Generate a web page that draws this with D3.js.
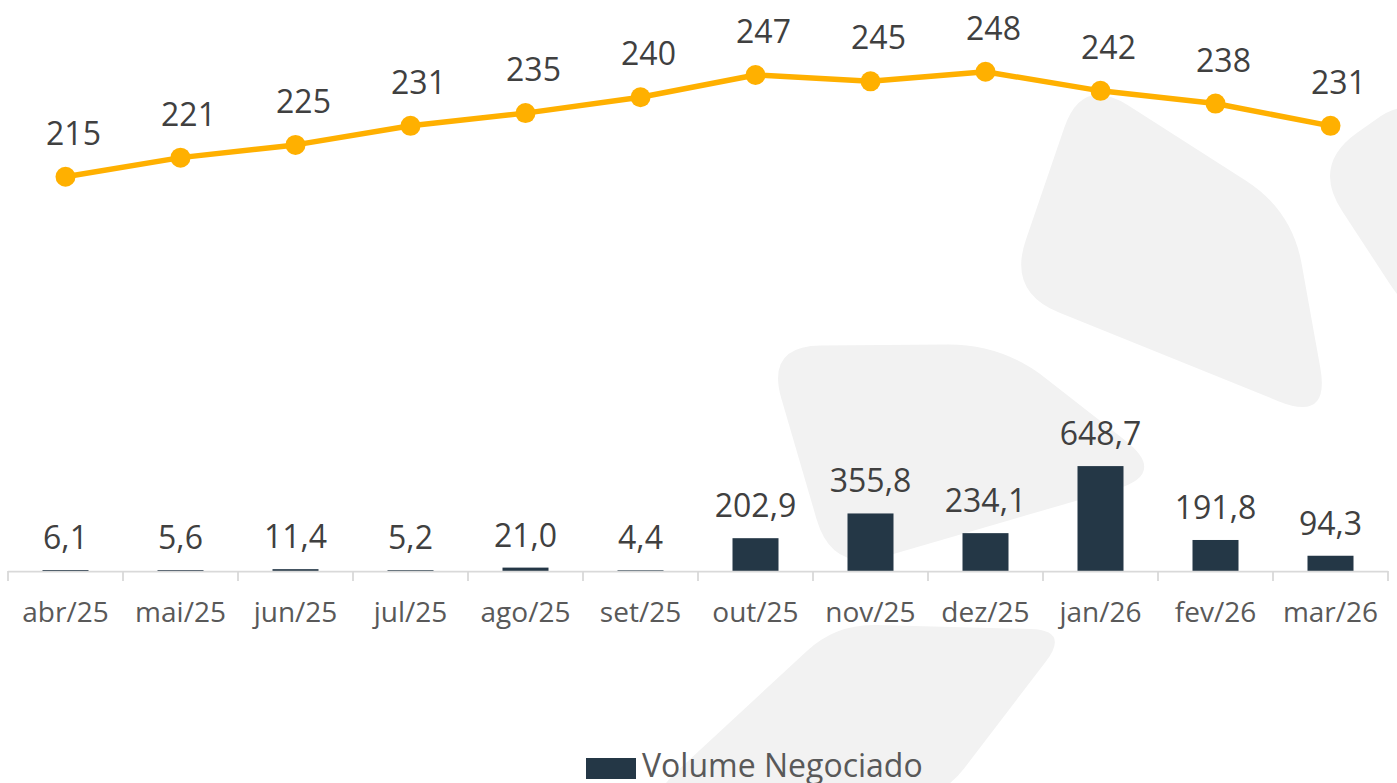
<!DOCTYPE html>
<html>
<head>
<meta charset="utf-8">
<script src="https://cdn.jsdelivr.net/npm/d3@7"></script>
<style>
  html, body { margin: 0; padding: 0; background: #fff; }
  svg { display: block; }
</style>
</head>
<body>
<svg id="chart" width="1397" height="783"></svg>
<script>
// chart data
const months = ["abr/25", "mai/25", "jun/25", "jul/25", "ago/25", "set/25",
                "out/25", "nov/25", "dez/25", "jan/26", "fev/26", "mar/26"]
const volume = [6.1, 5.6, 11.4, 5.2, 21.0, 4.4, 202.9, 355.8, 234.1, 648.7, 191.8, 94.3]
const lineValues = [215, 221, 225, 231, 235, 240, 247, 245, 248, 242, 238, 231]
const legendLabel = "Volume Negociado"

// light grey watermark in the background (decoration only)
const watermark = [
    [[1082, 76], [1292, 210], [1330, 422], [1008, 292]],
    [[1420, 88], [1312, 165], [1420, 330]],
    [[766, 346], [1002, 344], [1168, 474], [832, 572]],
    [[836, 624], [1070, 630], [940, 800], [646, 800]]
]

const width = 1397
const height = 783
const font = "'Open Sans', 'Noto Sans', sans-serif"
const fmt = v => v.toFixed(1).replace(".", ",")

const svg = d3.select("#chart")

// rounded polygon path: corners cut by r and joined with quadratic curves
function roundedPath(pts, r) {
    const n = pts.length
    let d = ""
    for (let i = 0; i < n; i++) {
        const p0 = pts[(i - 1 + n) % n], p1 = pts[i], p2 = pts[(i + 1) % n]
        const l1 = Math.hypot(p1[0] - p0[0], p1[1] - p0[1])
        const l2 = Math.hypot(p2[0] - p1[0], p2[1] - p1[1])
        const r1 = Math.min(r, l1 / 2), r2 = Math.min(r, l2 / 2)
        const a = [p1[0] + (p0[0] - p1[0]) * r1 / l1, p1[1] + (p0[1] - p1[1]) * r1 / l1]
        const b = [p1[0] + (p2[0] - p1[0]) * r2 / l2, p1[1] + (p2[1] - p1[1]) * r2 / l2]
        d += (i === 0 ? "M" : "L") + a[0] + "," + a[1] + "Q" + p1[0] + "," + p1[1] + " " + b[0] + "," + b[1]
    }
    return d + "Z"
}

svg.append("g")
    .selectAll("path")
    .data(watermark)
    .join("path")
    .attr("d", (d, i) => roundedPath(d, i === 3 ? 40 : 55))
    .attr("fill", "#f2f2f2")

// scales
const x = d3.scaleBand().domain(months).range([8, 1388])
const yBar = d3.scaleLinear().domain([0, 3500]).range([571, 5])
const yLine = d3.scaleLinear().domain([91, 269]).range([571, 5])
const barWidth = 46

// bars
svg.append("g")
    .selectAll("rect")
    .data(volume)
    .join("rect")
    .attr("x", (d, i) => x(months[i]) + x.bandwidth() / 2 - barWidth / 2)
    .attr("y", d => yBar(d))
    .attr("width", barWidth)
    .attr("height", d => yBar(0) - yBar(d))
    .attr("fill", "#243746")

// x axis: light grey line (on top of the bars) with ticks at the band edges
const axis = svg.append("g")
axis.append("line")
    .attr("x1", x.range()[0]).attr("x2", x.range()[1])
    .attr("y1", yBar(0) + 0.6).attr("y2", yBar(0) + 0.6)
    .attr("stroke", "#d9d9d9").attr("stroke-width", 1.8)
axis.selectAll(".tick")
    .data(months.map(m => x(m)).concat([x.range()[1]]))
    .join("line")
    .attr("class", "tick")
    .attr("x1", d => d).attr("x2", d => d)
    .attr("y1", yBar(0)).attr("y2", yBar(0) + 10)
    .attr("stroke", "#d9d9d9").attr("stroke-width", 1.8)
axis.selectAll("text")
    .data(months)
    .join("text")
    .attr("x", d => x(d) + x.bandwidth() / 2)
    .attr("y", 622)
    .attr("text-anchor", "middle")
    .attr("font-family", font)
    .attr("font-size", 28)
    .attr("fill", "#595959")
    .text(d => d)

// bar value labels
svg.append("g")
    .selectAll("text")
    .data(volume)
    .join("text")
    .attr("x", (d, i) => x(months[i]) + x.bandwidth() / 2)
    .attr("y", d => yBar(d) - 21)
    .attr("text-anchor", "middle")
    .attr("font-family", font)
    .attr("font-size", 32)
    .attr("fill", "#404040")
    .text(d => fmt(d))

// line with markers
const cx = i => x(months[i]) + x.bandwidth() / 2
const line = d3.line().x((d, i) => cx(i)).y(d => yLine(d))
svg.append("path")
    .datum(lineValues)
    .attr("d", line)
    .attr("fill", "none")
    .attr("stroke", "#ffb000")
    .attr("stroke-width", 5.5)
    .attr("stroke-linejoin", "round")
svg.append("g")
    .selectAll("circle")
    .data(lineValues)
    .join("circle")
    .attr("cx", (d, i) => cx(i))
    .attr("cy", d => yLine(d))
    .attr("r", 10)
    .attr("fill", "#ffb000")
// the line labels sit a little right of their points
svg.append("g")
    .selectAll("text")
    .data(lineValues)
    .join("text")
    .attr("x", (d, i) => cx(i) + 8)
    .attr("y", d => yLine(d) - 32)
    .attr("text-anchor", "middle")
    .attr("font-family", font)
    .attr("font-size", 32)
    .attr("fill", "#404040")
    .text(d => d)

// legend
const legend = svg.append("g")
legend.append("rect")
    .attr("x", 586).attr("y", 758)
    .attr("width", 50).attr("height", 21)
    .attr("fill", "#243746")
legend.append("text")
    .attr("x", 642).attr("y", 777)
    .attr("font-family", font)
    .attr("font-size", 32)
    .attr("fill", "#595959")
    .text(legendLabel)
</script>
</body>
</html>
